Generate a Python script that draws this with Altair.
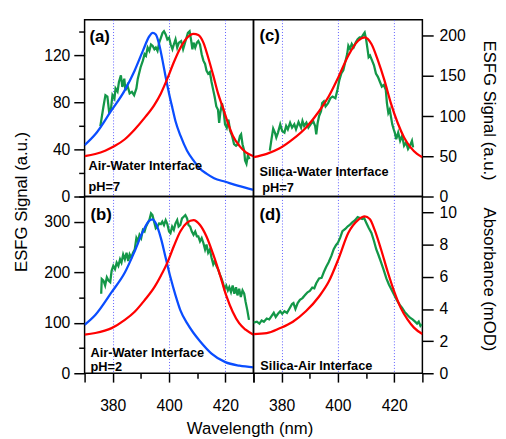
import altair as alt
import pandas as pd

# ---------------- data ----------------
# (a) Air-Water Interface pH=7
a_green_wl = [375.6, 376.7, 377.4, 378.1, 378.7, 379.4, 379.9, 380.6, 381.0, 381.7, 382.2, 382.9, 383.4, 384.1, 384.5, 385.2, 386.0, 386.8, 387.6, 388.4, 388.9, 389.9, 390.7, 391.3, 391.8, 392.4, 393.0, 393.6, 394.2, 394.8, 395.3, 395.9, 396.5, 397.1, 397.7, 398.2, 398.8, 399.4, 400.0, 400.6, 401.2, 401.7, 402.3, 402.9, 403.5, 404.3, 405.0, 405.5, 406.2, 406.7, 407.3, 407.8, 408.3, 408.7, 409.3, 409.9, 410.4, 411.0, 411.6, 412.2, 412.8, 413.3, 413.9, 414.5, 415.1, 415.7, 416.2, 416.8, 417.4, 417.8, 418.2, 418.8, 419.4, 419.9, 420.5, 421.1, 421.7, 422.4, 423.1, 423.8, 424.5, 425.2, 425.6, 426.1, 426.7, 427.0, 427.5, 428.0, 428.6]
a_green = [59.7, 76.4, 86, 84.7, 72, 75, 86, 83, 91.7, 89, 97.2, 102.8, 93, 100, 90, 94.4, 87.5, 88.9, 86, 91.7, 100, 109.7, 115.3, 120.8, 119.4, 126.4, 123.6, 129, 127.8, 125, 126.4, 123.6, 130.6, 134.7, 138.9, 140.3, 137.5, 133.3, 134.7, 129, 125, 129, 133.3, 126.4, 130.6, 131.9, 125, 129, 134.7, 138.9, 140.3, 133.3, 125, 130.6, 126.4, 130.6, 131.9, 129, 120.8, 115.3, 112.5, 106.9, 104.2, 105.6, 97.2, 90.3, 84.7, 76.4, 73.6, 62.5, 70.8, 79.2, 72.2, 61.1, 58.3, 65.3, 55.6, 51.4, 44.4, 43, 44.4, 51.4, 52.8, 44.4, 38.9, 30.6, 27.8, 34.7, 31.9]
a_blue_wl = [370, 373.8, 379.3, 384.3, 387.8, 390.7, 393.0, 394.2, 395.3, 396.5, 397.7, 398.8, 400.0, 401.2, 402.3, 404.1, 406.4, 408.7, 411.0, 413.3, 416.0, 420.0, 424.4, 430.0]
a_blue = [43.6, 52.8, 72.2, 90.3, 107, 123.6, 136, 138.9, 137.5, 129, 115.3, 101.4, 87.5, 75, 63.9, 51.4, 38.9, 30.6, 23.6, 19.4, 15.5, 12.5, 9.2, 5.6]
a_red_wl = [370, 373.8, 377.3, 380.8, 384.3, 387.8, 391.3, 394.8, 397.1, 399.4, 401.7, 404.1, 406.4, 408.7, 410.4, 412.2, 413.9, 415.7, 417.4, 419.2, 420.9, 422.7, 425.0, 427.3, 430.0]
a_red = [34.2, 36.1, 38.9, 43, 48.6, 56.9, 66.7, 77.8, 87.5, 100, 113.9, 126.4, 134.7, 138, 137, 130.6, 118, 102.8, 87.5, 75, 62.5, 51.4, 43, 37.5, 34.2]

# (c) Silica-Water Interface pH=7
c_green_wl = [375.8, 376.4, 377.0, 377.6, 378.1, 378.7, 379.5, 380.2, 381.0, 381.6, 382.2, 383.0, 383.7, 384.5, 385.1, 386.0, 386.9, 387.4, 388.0, 388.8, 389.5, 390.3, 391.2, 391.9, 392.3, 392.8, 393.3, 394.0, 394.4, 395.0, 395.6, 396.5, 397.3, 398.1, 399.1, 399.8, 400.5, 401.2, 401.9, 402.6, 403.3, 403.7, 404.3, 404.9, 405.6, 406.3, 407.0, 407.7, 408.4, 409.1, 409.5, 410.0, 410.5, 410.9, 411.4, 412.1, 412.8, 413.5, 414.2, 414.9, 415.6, 416.3, 417.0, 417.4, 417.9, 418.4, 418.8, 419.3, 419.8, 420.2, 420.7, 421.4, 422.1, 422.8, 423.5, 424.2, 424.9, 425.6, 426.3, 426.7]
c_green = [57.2, 71.4, 84.5, 79.6, 73.5, 79.6, 89.8, 81.6, 79.6, 87.8, 83.7, 91.9, 85.7, 89.8, 83.7, 92.7, 85.7, 93.9, 87.8, 91.9, 85.7, 89.8, 93.9, 87.8, 77.5, 91.9, 100, 106.1, 116.3, 118.4, 112.2, 116.3, 122.4, 124.5, 122.4, 132.7, 144.9, 153.1, 157.1, 167.3, 177.6, 187.8, 183.7, 189.8, 185.7, 191.8, 195.9, 198, 198, 202, 204.1, 195.9, 183.7, 173.5, 175.5, 169.4, 163.3, 153.1, 149, 142.9, 136.7, 138.8, 132.7, 116.3, 104.1, 108.2, 100, 89.8, 83.7, 79.6, 71.4, 79.6, 69.4, 75.5, 63.3, 67.3, 59.2, 63.3, 69.4, 61.2]
c_red_wl = [370, 374.7, 379.3, 384.0, 388.6, 393.3, 396.7, 400.2, 403.7, 407.2, 409.5, 411.9, 414.2, 416.5, 418.8, 421.2, 423.5, 425.8, 428.1, 430]
c_red = [49, 53.1, 60, 71.4, 85.7, 106.1, 124.5, 148.9, 175.5, 193.9, 198, 189.8, 169.4, 144.9, 116.3, 91.8, 73.5, 61.2, 53.1, 49]

# (b) Air-Water Interface pH=2
b_green_wl = [375.9, 376.1, 376.7, 377.3, 377.9, 378.5, 379.1, 379.6, 380.2, 380.8, 381.4, 382.0, 382.6, 383.1, 383.7, 384.3, 384.9, 385.5, 386.0, 386.6, 387.2, 387.8, 388.4, 388.9, 389.5, 390.1, 390.7, 391.3, 391.8, 392.4, 393.0, 393.6, 394.1, 394.7, 395.3, 395.9, 396.5, 397.1, 397.6, 398.2, 398.8, 399.4, 400.0, 400.5, 401.1, 401.7, 402.3, 402.9, 403.4, 404.0, 404.6, 405.2, 405.8, 406.4, 406.9, 407.5, 408.1, 408.7, 409.3, 409.9, 410.4, 411.0, 411.6, 412.2, 412.8, 413.3, 413.9, 414.5, 415.1, 415.7, 416.2, 416.8, 417.4, 418.0, 418.5, 419.1, 419.7, 420.3, 420.9, 421.4, 422.0, 422.6, 423.2, 423.8, 424.3, 424.9, 425.5, 426.1, 426.7, 427.2, 427.8, 428.4]
b_green = [157.5, 186.7, 183.5, 173.8, 190, 183.5, 180.3, 202.9, 212.6, 206.1, 219.1, 212.6, 225.6, 219.1, 235.3, 225.6, 238.6, 222.4, 235.3, 228.8, 238.6, 245, 267.7, 261.3, 274.2, 267.7, 283.9, 280.7, 290.4, 296.9, 303.4, 316.4, 313.2, 300.2, 287.2, 290.4, 296.9, 295.6, 300.2, 293.6, 303.4, 295.6, 280.7, 277.4, 290.4, 283.9, 296.9, 303.4, 290.4, 293.6, 306.7, 309.9, 313.2, 306.7, 293.6, 290.4, 280.7, 274.2, 280.7, 271, 271, 261.3, 267.7, 258, 245, 254.8, 238.6, 245, 228.8, 215.8, 222.4, 212.6, 206.1, 196.4, 190, 180.3, 167.3, 173.8, 164.1, 170.5, 160.8, 173.8, 157.5, 170.5, 154.3, 167.3, 151.1, 164.1, 157.5, 141.3, 125.1, 105.7]
b_blue_wl = [370, 373.8, 379.6, 384.3, 387.8, 390.7, 393.0, 394.1, 395.3, 397.1, 398.8, 400.5, 402.3, 404.0, 406.4, 408.7, 411.0, 415.1, 420.0, 425.0, 430.0]
b_blue = [95.9, 115.3, 160.5, 199.4, 241.7, 280.7, 302.1, 304.7, 296.9, 267.7, 228.8, 190, 154.3, 125.1, 99.2, 79.7, 63.5, 39, 22, 15, 11.7]
b_red_wl = [370, 373.8, 379.6, 384.3, 387.8, 391.3, 394.8, 397.1, 399.4, 401.7, 404.0, 406.4, 408.7, 411.0, 413.3, 415.7, 418.0, 420.3, 422.6, 424.9, 427.2, 430]
b_red = [76.5, 79.7, 89.4, 105.7, 121.9, 144.6, 170.5, 193.2, 219.1, 251.5, 280.7, 298.2, 303.4, 293.6, 270.9, 235.3, 196.4, 154.3, 121.9, 99.2, 86.2, 76.5]

# (d) Silica-Air Interface
d_green_wl = [370, 371.2, 372.1, 372.9, 373.7, 374.7, 375.6, 376.4, 377.2, 377.9, 378.7, 379.5, 380.2, 381.0, 381.9, 382.8, 383.7, 384.2, 384.9, 385.7, 386.5, 387.4, 388.4, 389.2, 390.0, 390.9, 391.6, 392.3, 393.3, 394.2, 395.0, 395.8, 396.7, 397.7, 398.5, 399.3, 400.0, 400.8, 401.6, 402.6, 403.5, 404.3, 405.1, 406.0, 407.0, 407.8, 408.6, 409.3, 410.1, 410.9, 411.9, 412.8, 413.6, 414.4, 415.3, 416.3, 417.2, 418.1, 419.1, 420.0, 420.9, 421.9, 422.8, 423.7, 424.7, 425.6, 426.5, 427.4, 428.1, 428.7, 429.3, 429.8]
d_green = [3.15, 3.21, 3.09, 3.29, 3.21, 3.41, 3.35, 3.56, 3.76, 3.5, 3.7, 3.86, 3.7, 3.86, 3.76, 4.03, 4.31, 4.37, 4.0, 4.37, 4.57, 4.68, 4.88, 5.04, 5.12, 5.33, 5.29, 5.6, 5.9, 5.94, 6.3, 6.61, 6.91, 7.32, 7.72, 7.97, 8.13, 8.44, 8.84, 8.98, 9.15, 9.25, 9.39, 9.51, 9.72, 9.66, 9.6, 9.66, 9.35, 9.05, 8.74, 8.23, 7.72, 7.36, 6.91, 6.4, 5.9, 5.53, 5.18, 4.88, 4.57, 4.27, 4.07, 3.82, 3.62, 3.46, 3.35, 3.21, 3.09, 3.21, 2.95, 3.05]
d_red_wl = [370, 374.7, 379.3, 384.0, 388.6, 393.3, 396.7, 400.2, 403.7, 407.2, 409.5, 411.3, 413.0, 415.3, 417.7, 420.0, 422.3, 424.7, 427.0, 430]
d_red = [2.44, 2.5, 2.8, 3.21, 3.86, 4.78, 5.69, 7.12, 8.74, 9.55, 9.76, 9.6, 8.94, 7.72, 6.3, 5.08, 4.07, 3.35, 2.84, 2.44]

# axis ticks / labels
x_ticks = [370, 380, 390, 400, 410, 420, 430]
grid_wl = [380, 400, 420]
a_ticks = [0, 20, 40, 60, 80, 100, 120, 140]
b_ticks = [0, 50, 100, 150, 200, 250, 300, 350]
c_ticks = [0, 50, 100, 150, 200]
d_ticks = [0, 2, 4, 6, 8, 10]

# ---------------- styling ----------------
FONT = "Liberation Sans"
GREEN = "#139748"
RED = "#ff0000"
BLUE = "#0a4dff"
GRIDC = "#5c5cff"
PW, PH = 172, 180
LW = 2.3

grid_test = "datum.value == 380 || datum.value == 400 || datum.value == 420"

x_top_axis = alt.Axis(values=grid_wl, labels=False, ticks=False, domain=False,
                      grid=True, gridDash=[1, 2], gridColor=GRIDC, gridWidth=1, title=None)


def x_bottom_axis(title):
    kw = dict(values=x_ticks,
              labelExpr=f"({grid_test}) ? datum.label : ''",
              tickSize={"condition": {"test": "datum.value == 390 || datum.value == 410", "value": 5}, "value": 9},
              labelPadding=16, domain=False, labelFlush=False, labelOverlap=False,
              grid=True, gridDash=[1, 2], gridColor=GRIDC, gridWidth=1,
              gridOpacity={"condition": {"test": grid_test, "value": 1}, "value": 0})
    if title:
        kw.update(title=title, titleX=168, titleY=61, titleBaseline="alphabetic")
    else:
        kw.update(title=None)
    return alt.Axis(**kw)


def y_axis(orient, values, major, title, tx, ty):
    kw = dict(orient=orient, values=values, domain=False, grid=False, labelOverlap=False,
              labelExpr=f"datum.value % {major} == 0 ? datum.label : ''",
              tickSize={"condition": {"test": f"datum.value % {major} == 0", "value": 11}, "value": 6},
              labelPadding=4 if orient == "left" else 6)
    if title:
        kw.update(title=title, titleX=tx, titleY=ty, titleBaseline="middle")
    else:
        kw.update(title=None)
    return alt.Axis(**kw)


def panel(series, ydom, yaxis, xaxis, notes):
    layers = []
    for wl, v, color, interp in series:
        df = pd.DataFrame({"wl": wl, "v": v})
        layers.append(
            alt.Chart(df).mark_line(color=color, strokeWidth=LW, interpolate=interp, clip=True).encode(
                x=alt.X("wl:Q", scale=alt.Scale(domain=[370, 430], nice=False, zero=False), axis=xaxis),
                y=alt.Y("v:Q", scale=alt.Scale(domain=ydom, nice=False, zero=False), axis=yaxis),
            )
        )
    for text, px, py, size in notes:
        layers.append(
            alt.Chart(pd.DataFrame({"t": [text]})).mark_text(
                align="left", baseline="alphabetic", font=FONT, fontWeight="bold",
                fontSize=size, color="black").encode(
                text="t:N", x=alt.value(px), y=alt.value(py))
        )
    return alt.layer(*layers).properties(width=PW, height=PH)


pa = panel(
    [(a_green_wl, a_green, GREEN, "linear"), (a_blue_wl, a_blue, BLUE, "monotone"),
     (a_red_wl, a_red, RED, "monotone")],
    [0, 150], y_axis("left", a_ticks, 40, "ESFG Signal (a.u.)", -64, 185), x_top_axis,
    [("(a)", 5, 23, 17), ("Air-Water Interface", 4, 153, 13), ("pH=7", 4, 174, 13)])

pc = panel(
    [(c_green_wl, c_green, GREEN, "linear"), (c_red_wl, c_red, RED, "monotone")],
    [0, 220], y_axis("right", c_ticks, 50, "ESFG Signal (a.u.)", 67, 92), x_top_axis,
    [("(c)", 6, 22, 17), ("Silica-Water Interface", 6, 159, 13), ("pH=7", 9, 175, 13)])

pb = panel(
    [(b_green_wl, b_green, GREEN, "linear"), (b_blue_wl, b_blue, BLUE, "monotone"),
     (b_red_wl, b_red, RED, "monotone")],
    [0, 350], y_axis("left", b_ticks, 100, None, 0, 0), x_bottom_axis("Wavelength (nm)"),
    [("(b)", 6, 24, 17), ("Air-Water Interface", 6, 163, 13), ("pH=2", 6, 178, 13)])

pd_ = panel(
    [(d_green_wl, d_green, GREEN, "linear"), (d_red_wl, d_red, RED, "monotone")],
    [0, 11], y_axis("right", d_ticks, 2, "Absorbance (mOD)", 67, 84), x_bottom_axis(None),
    [("(d)", 6, 24, 17), ("Silica-Air Interface", 7, 177, 13)])

chart = (
    alt.concat(pa, pc, pb, pd_, columns=2, spacing=0, bounds="flush")
    .properties(padding={"left": 4, "top": 7, "right": 0, "bottom": 0})
    .configure(font=FONT)
    .configure_view(stroke="black", strokeWidth=1.5)
    .configure_axis(labelFont=FONT, labelFontSize=16, labelColor="black",
                    titleFont=FONT, titleFontSize=17, titleFontWeight="normal", titleColor="black",
                    tickColor="black", tickWidth=1.5)
)

chart.save("out.html", embed_options={"renderer": "svg", "actions": False})
